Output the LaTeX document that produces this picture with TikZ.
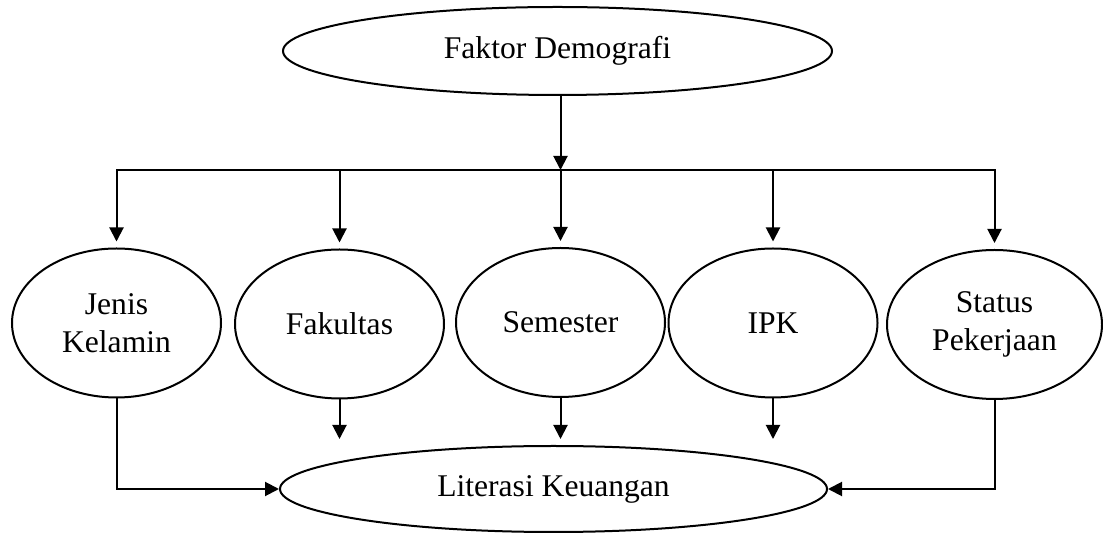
\documentclass[tikz,border=0pt]{standalone}
\usepackage{fontspec}
\setmainfont{Liberation Serif}
\usetikzlibrary{shapes.geometric,arrows.meta}
\tikzset{
  elips/.style={draw, ellipse, line width=1pt, inner sep=0pt, align=center,
    font=\fontsize{15.8}{19}\selectfont},
  kecil/.style={elips, minimum width=104.5pt, minimum height=74.5pt},
  garis/.style={line width=1pt},
  panah/.style={garis, -{Triangle[length=7pt,width=7pt]}}
}
\begin{document}
\begin{tikzpicture}[x=0.5pt,y=-0.5pt]
          \useasboundingbox (0,0) rectangle (1103,533);

          % Faktor demografi di atas
          \node[elips, minimum width=274.5pt, minimum height=44pt] (atas) at (557.5,51) {Faktor Demografi};

          % Lima faktor di tengah
          \node[kecil] (jk) at (116.5,323) {Jenis\\Kelamin};
          \node[kecil] (fak) at (339.5,324) {Fakultas};
          \node[kecil] (sem) at (560.5,322.5) {Semester};
          \node[kecil] (ipk) at (773,323) {IPK};
          \node[kecil, minimum width=107.5pt] (stat) at (994.5,324.5) {Status\\Pekerjaan};

          % Literasi keuangan di bawah
          \node[elips, minimum width=273.5pt, minimum height=43pt] (hasil) at (553.5,489) {Literasi Keuangan};

          % Garis pembagi
          \coordinate (busL) at (116.5,170);
          \coordinate (busR) at (994.5,170);
          \draw[panah] (atas.south -| sem.north) -- (sem.north |- busL);
          \draw[garis, line cap=rect] (busL) -- (busR);
          \foreach \n in {jk,fak,sem,ipk,stat}
            \draw[panah, shorten >=3pt] (\n.north |- busL) -- (\n.north);

          % Panah ke literasi keuangan
          \foreach \n in {fak,sem,ipk}
            \draw[panah, shorten >=3pt] (\n.south) -- (\n.south |- hasil.north);
          \draw[panah] (jk.south) |- (hasil.west);
          \draw[panah] (stat.south) |- (hasil.east);

        \end{tikzpicture}
\end{document}
